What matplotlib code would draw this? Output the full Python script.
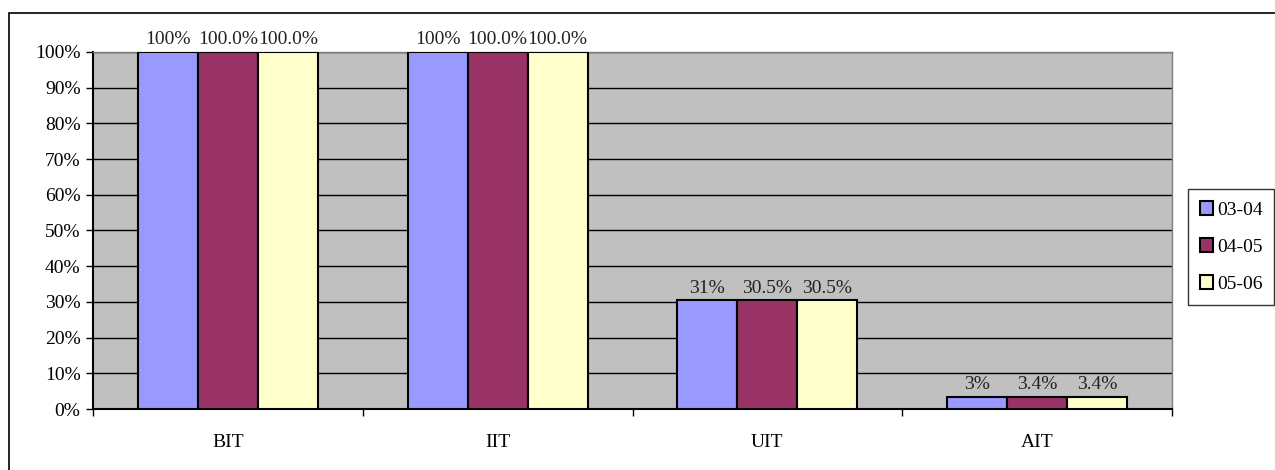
import math

import matplotlib.pyplot as plt
import numpy as np
from matplotlib.patches import Rectangle

categories = ["BIT", "IIT", "UIT", "AIT"]
series = ["03-04", "04-05", "05-06"]
values_0304 = [100.0, 100.0, 30.5, 3.4]
values_0405 = [100.0, 100.0, 30.5, 3.4]
values_0506 = [100.0, 100.0, 30.5, 3.4]
label_decimals = [0, 1, 1]
colors = ["#9999FF", "#993366", "#FFFFCC"]
yticks = list(range(0, 101, 10))

plt.rcParams["font.family"] = ["Liberation Serif", "DejaVu Serif"]


def pct_label(v, decimals):
    # Excel-style half-up rounding (30.5 -> 31)
    f = 10 ** decimals
    r = math.floor(v * f + 0.5) / f
    return f"{r:.{decimals}f}%"


fig = plt.figure(figsize=(12.75, 4.7), dpi=100)
ax = fig.add_axes([93 / 1275, 61 / 470, 1079 / 1275, 357 / 470])

# outer chart frame
fig.patches.append(Rectangle((9 / 1275, -0.1), 1.2, (470 - 13) / 470 + 0.1,
                             transform=fig.transFigure, fill=False,
                             edgecolor="black", linewidth=1.2))

ax.set_facecolor("#C0C0C0")
x = np.arange(len(categories))
width = 0.2225
all_vals = [values_0304, values_0405, values_0506]
for i, (vals, name) in enumerate(zip(all_vals, series)):
    pos = x + (i - 1) * width
    bars = ax.bar(pos, vals, width, color=colors[i], edgecolor="black",
                  linewidth=1.5, label=name, zorder=3)
    for b, v in zip(bars, vals):
        ax.text(b.get_x() + b.get_width() / 2, v + 1, pct_label(v, label_decimals[i]),
                ha="center", va="bottom", fontsize=14, color="#222222")

ax.set_xlim(-0.5, len(categories) - 0.5)
ax.set_ylim(0, 100)
ax.set_yticks(yticks)
ax.set_yticklabels([f"{t}%" for t in yticks], fontsize=14)
ax.yaxis.grid(True, color="black", linewidth=1.0, zorder=1)
ax.set_axisbelow(True)

ax.set_xticks(x)
ax.set_xticklabels(categories, fontsize=14)
ax.tick_params(axis="x", length=0, pad=18)
ax.set_xticks(np.arange(len(categories) + 1) - 0.5, minor=True)
ax.tick_params(axis="x", which="minor", length=5, width=1, direction="out")
ax.tick_params(axis="y", length=5, width=1, direction="out", pad=4)

for side in ["top", "right"]:
    ax.spines[side].set_color("#808080")
    ax.spines[side].set_linewidth(1.0)
ax.spines["left"].set_linewidth(1.5)
ax.spines["bottom"].set_linewidth(1.5)

leg = ax.legend(loc="center left", bbox_to_anchor=(1188 / 1275, 223 / 470),
                bbox_transform=fig.transFigure, frameon=True, fancybox=False,
                fontsize=14, handlelength=0.7, handleheight=0.7,
                handletextpad=0.2, labelspacing=1.0, borderpad=0.6,
                borderaxespad=0, edgecolor="black")
leg.get_frame().set_linewidth(1.0)
for h in leg.legend_handles:
    h.set_linewidth(1.5)

fig.savefig("out.png", dpi=100)
